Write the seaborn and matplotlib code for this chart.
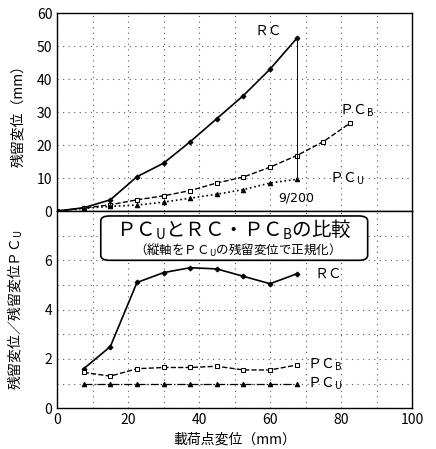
import matplotlib
matplotlib.use("Agg")
import matplotlib.pyplot as plt
import seaborn as sns
from matplotlib.patches import FancyBboxPatch

# load displacement (mm)
x_load = [0, 7.5, 15, 22.5, 30, 37.5, 45, 52.5, 60, 67.5]
x_load_pcb = [0, 7.5, 15, 22.5, 30, 37.5, 45, 52.5, 60, 67.5, 75, 82.5]

# residual displacement (mm)
rc_res = [0, 1.0, 3.4, 10.4, 14.5, 21.0, 28.0, 35.0, 43.0, 52.3]
pcb_res = [0, 0.9, 1.9, 3.4, 4.6, 6.2, 8.5, 10.3, 13.3, 16.8, 21.0, 26.6]
pcu_res = [0, 0.8, 1.4, 1.8, 2.7, 3.9, 5.1, 6.5, 8.5, 9.6]

# normalised by PC_U
x_ratio = [7.5, 15, 22.5, 30, 37.5, 45, 52.5, 60, 67.5]
rc_ratio = [1.6, 2.5, 5.1, 5.5, 5.7, 5.65, 5.35, 5.05, 5.45]
pcb_ratio = [1.45, 1.3, 1.6, 1.65, 1.65, 1.7, 1.55, 1.55, 1.75]
pcu_ratio = [1.0, 1.0, 1.0, 1.0, 1.0, 1.0, 1.0, 1.0, 1.0]

sns.set_style("white")
plt.rcParams["font.family"] = ["Noto Sans CJK JP", "DejaVu Sans"]
plt.rcParams["mathtext.fontset"] = "custom"
plt.rcParams["mathtext.rm"] = "Noto Sans CJK JP"
plt.rcParams["text.color"] = "k"
plt.rcParams["axes.labelcolor"] = "k"

fig = plt.figure(figsize=(4.36, 4.49), dpi=100)
ax1 = fig.add_axes([0.131, 0.530, 0.814, 0.441])
ax2 = fig.add_axes([0.131, 0.091, 0.814, 0.439])

styles = {
    "RC": dict(linestyle="-", marker="D", markersize=2.5, markerfacecolor="k", linewidth=1.2),
    "PCB": dict(linestyle="--", marker="s", markersize=3.2, markerfacecolor="white", linewidth=1.0),
    "PCU": dict(linestyle=":", marker="^", markersize=3.2, markerfacecolor="k", linewidth=1.2),
}

# Top panel: residual displacement
sns.lineplot(x=x_load, y=rc_res, ax=ax1, color="k", markeredgecolor="k", **styles["RC"])
sns.lineplot(x=x_load_pcb, y=pcb_res, ax=ax1, color="k", markeredgecolor="k", **styles["PCB"])
sns.lineplot(x=x_load, y=pcu_res, ax=ax1, color="k", markeredgecolor="k", **styles["PCU"])
ax1.vlines(x_load[-1], pcu_res[-1], rc_res[-1], color="k", linewidth=0.7)

ax1.text(59.5, 54.5, "ＲＣ", fontsize=10, ha="center", va="center")
ax1.text(79.5, 30.5, "ＰＣ$_\\mathregular{B}$", fontsize=10, ha="left", va="center")
ax1.text(76.5, 9.8, "ＰＣ$_\\mathregular{U}$", fontsize=10, ha="left", va="center")
ax1.text(67.5, 4.0, "9/200", fontsize=9, ha="center", va="center", family="DejaVu Sans")

ax1.set_xlim(0, 100)
ax1.set_ylim(0, 60)
ax1.set_yticks(range(0, 61, 10))
ax1.set_xticks(range(0, 101, 10))
ax1.set_xticklabels([])
ax1.set_ylabel("残留変位（mm）", fontsize=10)

# Bottom panel: normalised
sns.lineplot(x=x_ratio, y=rc_ratio, ax=ax2, color="k", markeredgecolor="k", **styles["RC"])
sns.lineplot(x=x_ratio, y=pcb_ratio, ax=ax2, color="k", markeredgecolor="k", **styles["PCB"])
sns.lineplot(x=x_ratio, y=pcu_ratio, ax=ax2, color="k", markeredgecolor="k",
             linestyle="-.", marker="^", markersize=3.2, markerfacecolor="k", linewidth=0.9)

ax2.text(72.5, 5.47, "ＲＣ", fontsize=10, ha="left", va="center")
ax2.text(70.5, 1.78, "ＰＣ$_\\mathregular{B}$", fontsize=10, ha="left", va="center")
ax2.text(70.5, 1.0, "ＰＣ$_\\mathregular{U}$", fontsize=10, ha="left", va="center")

box = FancyBboxPatch((12.3, 6.0), 75.2, 1.8, boxstyle="round,pad=0,rounding_size=2.5",
                     mutation_aspect=0.08, facecolor="white", edgecolor="k", linewidth=1.2,
                     transform=ax2.transData, zorder=5)
ax2.add_patch(box)
ax2.text(49.9, 7.25, "ＰＣ$_\\mathregular{U}$とＲＣ・ＰＣ$_\\mathregular{B}$の比較", fontsize=14,
         ha="center", va="center", zorder=6)
ax2.text(49.9, 6.42, "（縦軸をＰＣ$_\\mathregular{U}$の残留変位で正規化）", fontsize=9,
         ha="center", va="center", zorder=6)

ax2.set_xlim(0, 100)
ax2.set_ylim(0, 8)
ax2.set_yticks(range(0, 9))
ax2.set_yticklabels(["0", "", "2", "", "4", "", "6", "", ""])
ax2.set_xticks(range(0, 101, 10))
ax2.set_xticklabels(["0", "", "20", "", "40", "", "60", "", "80", "", "100"])
ax2.set_xlabel("載荷点変位（mm）", fontsize=10)
ax2.set_ylabel("残留変位／残留変位ＰＣ$_\\mathregular{U}$", fontsize=10)

for ax in (ax1, ax2):
    ax.grid(True, linestyle=(0, (1, 4)), color="0.35", linewidth=0.8)
    ax.tick_params(direction="in", length=3, labelsize=10, colors="k")
    for s in ax.spines.values():
        s.set_color("k")
        s.set_linewidth(1.0)
    ax.set_axisbelow(True)

ax1.yaxis.set_label_coords(-0.09, 0.5)
ax2.yaxis.set_label_coords(-0.09, 0.5)

fig.savefig("out.png", dpi=100)
